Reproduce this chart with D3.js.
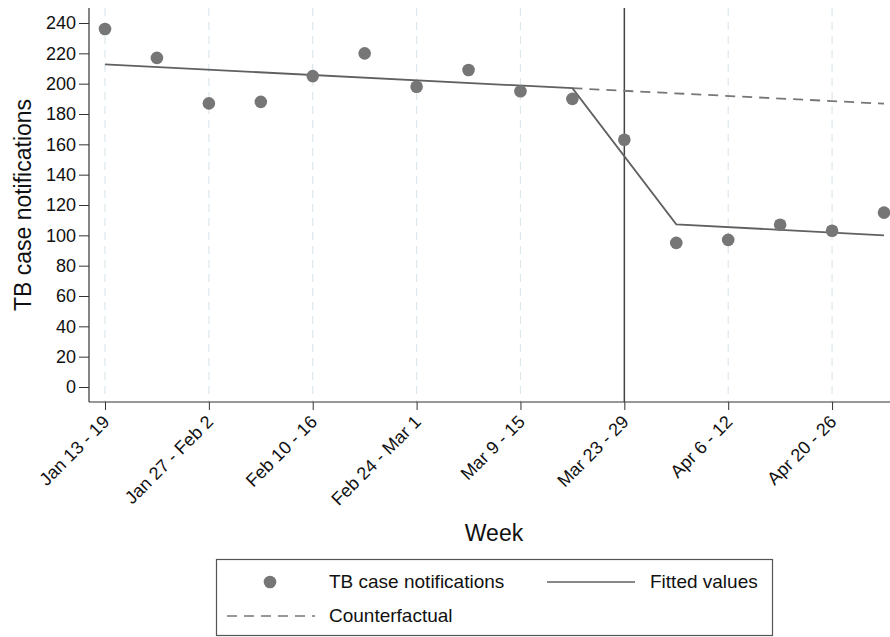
<!DOCTYPE html>
<html><head><meta charset="utf-8">
<script src="https://cdn.jsdelivr.net/npm/d3@7"></script>
<style>body{margin:0;background:#fff;} svg{display:block;font-family:"Liberation Sans",Arial,sans-serif;}</style>
</head><body><svg id="c" width="890" height="637"></svg>
<script>
const weeks = ["Jan 13 - 19","Jan 20 - 26","Jan 27 - Feb 2","Feb 3 - 9","Feb 10 - 16","Feb 17 - 23","Feb 24 - Mar 1","Mar 2 - 8","Mar 9 - 15","Mar 16 - 22","Mar 23 - 29","Mar 30 - Apr 5","Apr 6 - 12","Apr 13 - 19","Apr 20 - 26","Apr 27 - May 3"];
const labelWeeks = [0,2,4,6,8,10,12,14];
const notifications = [236,217,187,188,205,220,198,209,195,190,163,95,97,107,103,115];
const fittedIdx = [0,9,11,15];
const fittedVals = [212.7,197,107.2,100];
const cfIdx = [9,15];
const cfVals = [197,186.8];
const interruptionWeek = 10;
const yTicks = [0,20,40,60,80,100,120,140,160,180,200,220,240];

const svg = d3.select("#c");
const x = d3.scaleLinear().domain([0,15]).range([105,884]);
const y = d3.scaleLinear().domain([0,240]).range([387,23]);
const axisY = 402, axisX = 89;
const grey = "#767676", lineC = "#606060";
const FONT = "Liberation Sans, Arial, sans-serif";

// gridlines
svg.append("g").selectAll("line").data(labelWeeks.filter(d=>d!==interruptionWeek)).join("line")
  .attr("x1",d=>x(d)).attr("x2",d=>x(d)).attr("y1",8).attr("y2",axisY)
  .attr("stroke","#dce8ee").attr("stroke-width",1.2).attr("stroke-dasharray","8,6");

// axes
const yAxis = d3.axisLeft(y).tickValues(yTicks).tickSize(10).tickPadding(3);
const gy = svg.append("g").attr("transform",`translate(${axisX},0)`).call(yAxis);
gy.select(".domain").remove();
gy.append("line").attr("x1",0).attr("x2",0).attr("y1",8).attr("y2",axisY).attr("stroke","#333").attr("stroke-width",1.2);
gy.selectAll(".tick line").attr("stroke","#333");
gy.selectAll(".tick text").attr("font-size",18).attr("fill","#111").attr("font-family",FONT);

const xAxis = d3.axisBottom(x).tickValues(labelWeeks).tickFormat(d=>weeks[d]).tickSize(8).tickPadding(2);
const gx = svg.append("g").attr("transform",`translate(0,${axisY})`).call(xAxis);
gx.select(".domain").remove();
gx.append("line").attr("x1",axisX).attr("x2",890).attr("y1",0).attr("y2",0).attr("stroke","#333").attr("stroke-width",1.2);
gx.selectAll(".tick line").attr("stroke","#333");
gx.selectAll(".tick text").attr("font-size",18).attr("fill","#111").attr("font-family",FONT)
  .attr("text-anchor","end").attr("x",0).attr("y",0).attr("dy",null)
  .attr("transform","translate(5,21) rotate(-45)");

// interruption line
svg.append("line").attr("x1",x(interruptionWeek)).attr("x2",x(interruptionWeek)).attr("y1",8).attr("y2",axisY)
  .attr("stroke","#444").attr("stroke-width",1.5);

// counterfactual
const line = d3.line().x(d=>x(d[0])).y(d=>y(d[1]));
svg.append("path").datum(cfIdx.map((d,i)=>[d,cfVals[i]])).attr("d",line)
  .attr("fill","none").attr("stroke","#777").attr("stroke-width",1.8).attr("stroke-dasharray","10,7");
// fitted
svg.append("path").datum(fittedIdx.map((d,i)=>[d,fittedVals[i]])).attr("d",line)
  .attr("fill","none").attr("stroke",lineC).attr("stroke-width",1.8);

// points
svg.append("g").selectAll("circle").data(notifications).join("circle")
  .attr("cx",(d,i)=>x(i)).attr("cy",d=>y(d)).attr("r",6.3).attr("fill",grey);

// axis titles
svg.append("text").attr("transform",`translate(31,${y(120)}) rotate(-90)`).attr("text-anchor","middle")
  .attr("font-size",23).attr("fill","#111").text("TB case notifications");
svg.append("text").attr("x",494).attr("y",541).attr("text-anchor","middle")
  .attr("font-size",23).attr("fill","#111").text("Week");

// legend
const lg = svg.append("g");
lg.append("rect").attr("x",216.5).attr("y",559.5).attr("width",556).attr("height",76).attr("fill","#fff").attr("stroke","#555").attr("stroke-width",1.2);
lg.append("circle").attr("cx",270).attr("cy",582).attr("r",6.3).attr("fill",grey);
lg.append("text").attr("x",329).attr("y",588).attr("font-size",19).attr("fill","#111").text("TB case notifications");
lg.append("line").attr("x1",547).attr("x2",635).attr("y1",582).attr("y2",582).attr("stroke",lineC).attr("stroke-width",1.6);
lg.append("text").attr("x",650).attr("y",588).attr("font-size",19).attr("fill","#111").text("Fitted values");
lg.append("line").attr("x1",227).attr("x2",315).attr("y1",616).attr("y2",616).attr("stroke","#777").attr("stroke-width",1.6).attr("stroke-dasharray","10,7");
lg.append("text").attr("x",329).attr("y",622).attr("font-size",19).attr("fill","#111").text("Counterfactual");
</script></body></html>
